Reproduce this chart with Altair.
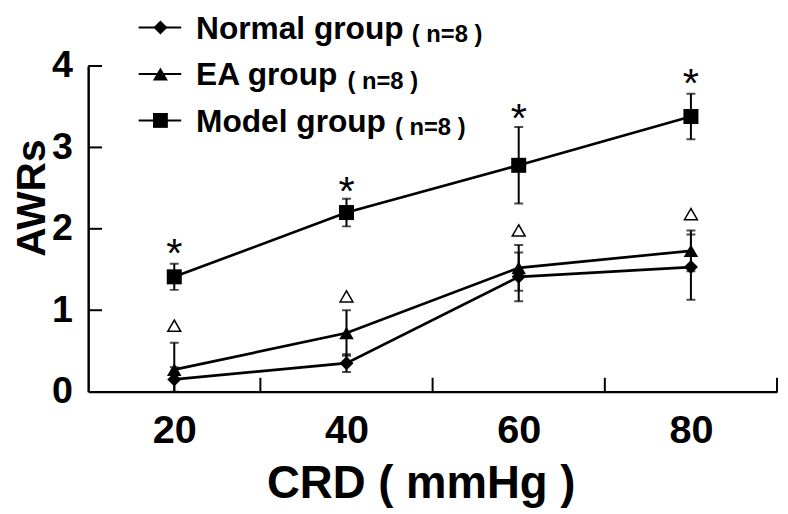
import altair as alt
import pandas as pd

# ---- data ----
crd = [20, 40, 60, 80]
groups = ["Normal group", "EA group", "Model group"]
n_label = "( n=8 )"
normal_mean = [0.15, 0.35, 1.41, 1.53]
normal_err = [0.15, 0.11, 0.30, 0.40]
ea_mean = [0.27, 0.72, 1.52, 1.73]
ea_err = [0.33, 0.28, 0.28, 0.25]
model_mean = [1.41, 2.20, 2.78, 3.38]
model_err = [0.16, 0.17, 0.47, 0.28]
star_y = [1.82, 2.59, 3.48, 3.91]      # "*" markers above Model group
delta_y = [0.81, 1.17, 1.98, 2.18]     # open triangle markers above EA group
y_tick_values = [0, 1, 2, 3, 4]
inner_y_ticks = [1, 2, 3, 4]
inner_x_ticks = [30, 50, 70, 90]

# ---- style / layout ----
FONT = "Liberation Sans"
shapes = ["diamond", "triangle-up", "square"]
sizes = [200, 230, 225]
W, H = 696, 329

rows = []
for g, means, errs in zip(groups, [normal_mean, ea_mean, model_mean],
                          [normal_err, ea_err, model_err]):
    for x, m, e in zip(crd, means, errs):
        rows.append({"group": g, "crd": x, "mean": m, "lo": m - e, "hi": m + e})
df = pd.DataFrame(rows)

xscale = alt.Scale(domain=[10, 90], nice=False, zero=False)
yscale = alt.Scale(domain=[0, 4], nice=False)
shape_scale = alt.Scale(domain=groups, range=shapes)
size_scale = alt.Scale(domain=groups, range=sizes)

xaxis = alt.Axis(values=crd, ticks=False, tickSize=0, grid=False, format="d",
                 domainColor="black", domainWidth=2.5,
                 labelFont=FONT, labelFontSize=40, labelFontWeight="bold",
                 labelColor="black", labelPadding=19, labelFlush=False,
                 title="CRD ( mmHg )", titleFont=FONT, titleFontSize=46,
                 titleFontWeight="bold", titleColor="black",
                 titleX=336, titleY=107, titleBaseline="alphabetic",
                 titleAlign="center")
yaxis = alt.Axis(values=y_tick_values, ticks=False, tickSize=0, grid=False,
                 format="d",
                 domainColor="black", domainWidth=2.5,
                 labelFont=FONT, labelFontSize=38, labelFontWeight="bold",
                 labelColor="black", labelPadding=16, labelFlush=False,
                 title="AWRs", titleFont=FONT, titleFontSize=41,
                 titleFontWeight="bold", titleColor="black",
                 titleX=-44, titleY=133, titleBaseline="alphabetic",
                 titleAlign="center", titleAngle=270)

base = alt.Chart(df)

err_rule = base.mark_rule(color="black", strokeWidth=2, clip=True).encode(
    x=alt.X("crd:Q", scale=xscale, axis=xaxis),
    y=alt.Y("lo:Q", scale=yscale, axis=yaxis),
    y2="hi:Q",
)
cap_lo = base.mark_tick(color="black", orient="horizontal", size=9,
                        thickness=2, clip=True).encode(
    x=alt.X("crd:Q", scale=xscale), y=alt.Y("lo:Q", scale=yscale))
cap_hi = base.mark_tick(color="black", orient="horizontal", size=9,
                        thickness=2, clip=True).encode(
    x=alt.X("crd:Q", scale=xscale), y=alt.Y("hi:Q", scale=yscale))

lines = base.mark_line(color="black", strokeWidth=2.7).encode(
    x=alt.X("crd:Q", scale=xscale),
    y=alt.Y("mean:Q", scale=yscale),
    detail="group:N",
)
points = base.mark_point(filled=True, color="black", opacity=1).encode(
    x=alt.X("crd:Q", scale=xscale),
    y=alt.Y("mean:Q", scale=yscale),
    shape=alt.Shape("group:N", scale=shape_scale, legend=None),
    size=alt.Size("group:N", scale=size_scale, legend=None),
)

stars = alt.Chart(pd.DataFrame({"crd": crd, "y": star_y})).mark_text(
    text="*", font=FONT, fontSize=42, color="black", baseline="alphabetic",
    dy=24).encode(x=alt.X("crd:Q", scale=xscale), y=alt.Y("y:Q", scale=yscale))

deltas = alt.Chart(pd.DataFrame({"crd": crd, "y": delta_y})).mark_point(
    shape="triangle-up", filled=False, color="black", strokeWidth=1.5,
    size=170, opacity=1).encode(
    x=alt.X("crd:Q", scale=xscale), y=alt.Y("y:Q", scale=yscale))

ytick_marks = alt.Chart(pd.DataFrame({"v": inner_y_ticks})).mark_rule(
    color="black", strokeWidth=2).encode(
    y=alt.Y("v:Q", scale=yscale), x=alt.value(0), x2=alt.value(14))
xtick_marks = alt.Chart(pd.DataFrame({"v": inner_x_ticks})).mark_rule(
    color="black", strokeWidth=2).encode(
    x=alt.X("v:Q", scale=xscale), y=alt.value(H), y2=alt.value(H - 14))

# ---- manual legend (pixel positions relative to plot origin) ----
row_y = [-39, 8, 55]
suffix_x = [327, 262, 310]
legend_layers = []
for g, shp, sz, ry, sx in zip(groups, shapes, sizes, row_y, suffix_x):
    d = alt.Data(values=[{"label": g, "suffix": n_label}])
    legend_layers.append(alt.Chart(d).mark_rule(color="black", strokeWidth=2).encode(
        x=alt.value(51), x2=alt.value(94), y=alt.value(ry)))
    legend_layers.append(alt.Chart(d).mark_point(
        filled=True, color="black", shape=shp, size=sz, opacity=1).encode(
        x=alt.value(73), y=alt.value(ry)))
    legend_layers.append(alt.Chart(d).mark_text(
        font=FONT, fontSize=32, fontWeight="bold", color="black",
        align="left", baseline="alphabetic").encode(
        x=alt.value(109), y=alt.value(ry + 11.5), text="label:N"))
    legend_layers.append(alt.Chart(d).mark_text(
        font=FONT, fontSize=24, fontWeight="bold", color="black",
        align="left", baseline="alphabetic").encode(
        x=alt.value(sx), y=alt.value(ry + 15), text="suffix:N"))

chart = alt.layer(
    err_rule, cap_lo, cap_hi, lines, points, stars, deltas,
    ytick_marks, xtick_marks, *legend_layers
).properties(
    width=W, height=H,
    autosize=alt.AutoSizeParams(type="none"),
    padding={"left": 81, "top": 56, "right": 3, "bottom": 118},
    background="white",
).configure_view(stroke=None)

chart.save("out.html", embed_options={"renderer": "svg", "actions": False})
